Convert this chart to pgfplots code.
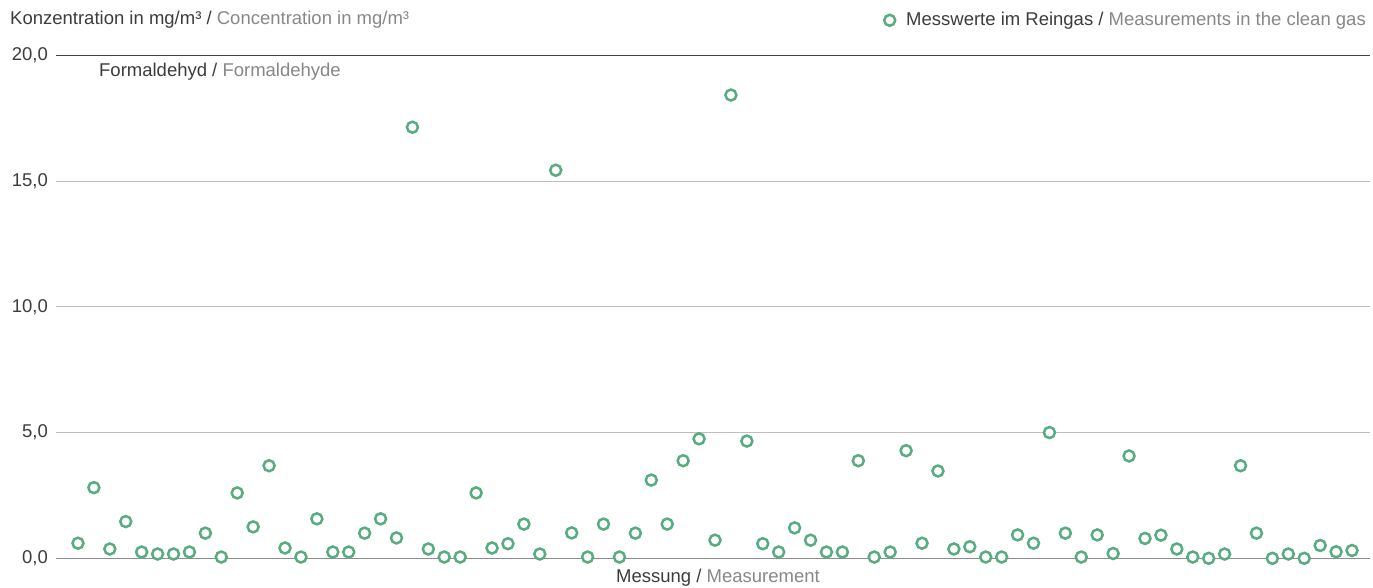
\documentclass[border=0pt]{standalone}
\usepackage{fontspec}
\setmainfont{Liberation Sans}
\usepackage{pgfplots}
\pgfplotsset{compat=1.18}
\definecolor{mgreen}{RGB}{88,172,128}
\definecolor{dtext}{RGB}{60,60,60}
\definecolor{ltext}{RGB}{135,135,135}
\begin{document}
\fontsize{18.5bp}{22bp}\selectfont
\begin{tikzpicture}
\begin{axis}[
  name=ax,
  scale only axis,
  width=1314bp, height=503bp,
  xmin=-0.38, xmax=82.13,
  ymin=0, ymax=20,
  clip=false,
  axis line style={draw=none},
  xtick=\empty,
  ytick={0,5,10,15,20},
  major tick length=0pt,
  ymajorgrids,
  grid style={draw={rgb,255:red,190;green,190;blue,190}, line width=1bp},
  yticklabel style={font=\fontsize{18.5bp}{22bp}\selectfont, text=dtext, inner sep=0pt, xshift=-8bp},
  /pgf/number format/assume math mode=true,
  yticklabel={\pgfmathprintnumber[fixed,fixed zerofill,precision=1,use comma]{\tick}},
  legend style={draw=none, fill=none, inner sep=0pt, at={(axis description cs:1,1)}, anchor=east, yshift=35bp, xshift=-2bp, font=\fontsize{18.5bp}{22bp}\selectfont, text=dtext},
  legend cell align=left,
  legend image code/.code={\draw[#1] plot coordinates {(0.3cm,0cm)};},
]
\draw[draw={rgb,255:red,140;green,140;blue,140}, line width=1.3bp] (axis cs:-0.38,0) -- (axis cs:82.13,0);
\draw[draw={rgb,255:red,68;green,68;blue,68}, line width=1.3bp] (axis cs:-0.38,20) -- (axis cs:82.13,20);
\addplot[only marks, mark=*, mark size=5.5bp, mark options={draw=mgreen, fill=white, line width=2.5bp}] coordinates {
(1,0.60) (2,2.81) (3,0.37) (4,1.46) (5,0.25) (6,0.17) (7,0.17) (8,0.25) (9,1.00) (10,0.05)
(11,2.60) (12,1.25) (13,3.68) (14,0.41) (15,0.05) (16,1.57) (17,0.25) (18,0.25) (19,1.00) (20,1.57)
(21,0.81) (22,17.14) (23,0.37) (24,0.05) (25,0.05) (26,2.60) (27,0.41) (28,0.58) (29,1.36) (30,0.17)
(31,15.43) (32,1.01) (33,0.05) (34,1.36) (35,0.05) (36,1.00) (37,3.11) (38,1.36) (39,3.88) (40,4.75)
(41,0.72) (42,18.42) (43,4.66) (44,0.58) (45,0.25) (46,1.21) (47,0.72) (48,0.25) (49,0.25) (50,3.88)
(51,0.05) (52,0.25) (53,4.28) (54,0.60) (55,3.47) (56,0.37) (57,0.46) (58,0.05) (59,0.05) (60,0.93)
(61,0.60) (62,5.00) (63,1.00) (64,0.05) (65,0.93) (66,0.19) (67,4.07) (68,0.79) (69,0.92) (70,0.37)
(71,0.05) (72,0.0) (73,0.17) (74,3.68) (75,1.00) (76,0.0) (77,0.17) (78,0.0) (79,0.51) (80,0.26)
(81,0.31)
};
\addlegendentry{\hspace{9bp}Messwerte im Reingas / \textcolor{ltext}{Measurements in the clean gas}}
\node[anchor=west, inner sep=0pt, text=dtext] at (axis description cs:0.0327,0.967) {Formaldehyd / \textcolor{ltext}{Formaldehyde}};
\node[inner sep=0pt, text=dtext] at (axis description cs:0.5038,-0.0388) {Messung / \textcolor{ltext}{Measurement}};
\node[anchor=west, inner sep=0pt, text=dtext] at (axis description cs:-0.035,1.0706) {Konzentration in mg/m³ / \textcolor{ltext}{Concentration in mg/m³}};
\end{axis}
\pgfresetboundingbox
\path[use as bounding box] ([xshift=-56bp,yshift=-29.5bp]ax.south west) rectangle ([xshift=3bp,yshift=55.3bp]ax.north east);
\end{tikzpicture}
\end{document}
